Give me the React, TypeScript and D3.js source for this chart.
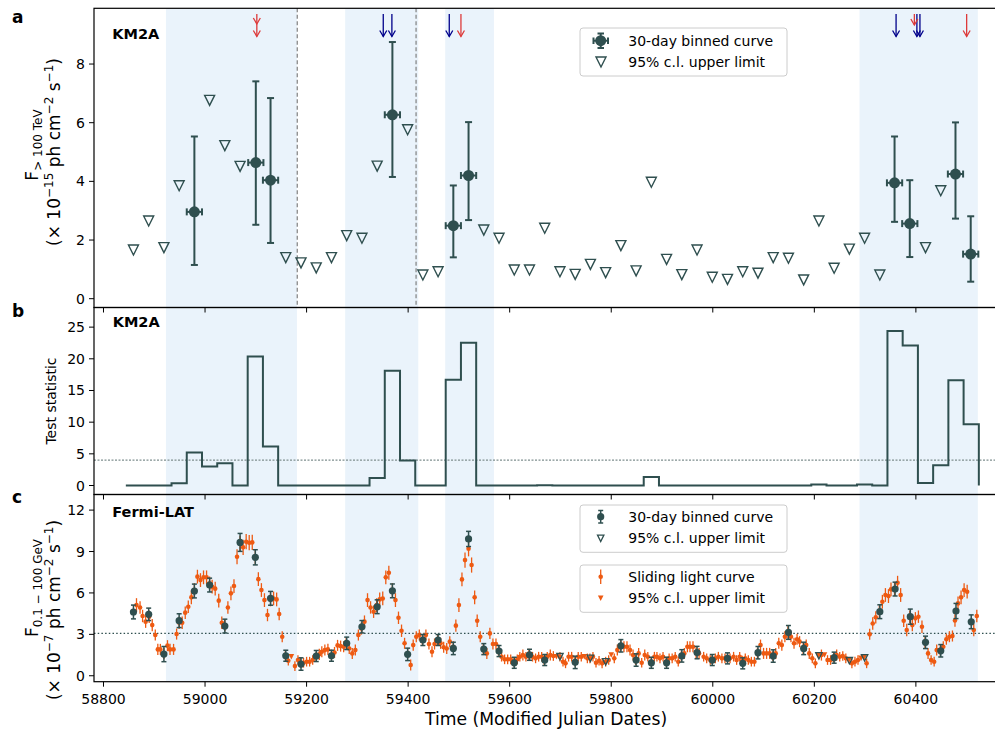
import React from "react";
import * as d3 from "d3";

// ---------------- DATA ----------------
const xTicks = [58800, 59000, 59200, 59400, 59600, 59800, 60000, 60200, 60400];
const yTicksA = [0, 2, 4, 6, 8];
const yTicksB = [0, 5, 10, 15, 20, 25];
const yTicksC = [0, 3, 6, 9, 12];

const shadedStart = [58923, 59276, 59473, 60289];
const shadedEnd = [59181, 59420, 59569, 60522];
const dashedMjd = [59181.6, 59415.6];

const blueArrowMjd = [59351, 59368, 59481, 60361, 60402, 60408];
const redArrowMjd = [59102, 59504, 60397, 60500];
const redArrowKind = ["double", "long", "short", "long"];

// Panel a: KM2A 30-day binned detections
const kmMjd = [58979, 59100, 59129, 59369, 59489, 59519, 60358, 60388, 60478, 60508];
const kmFlux = [2.96, 4.64, 4.04, 6.27, 2.49, 4.2, 3.95, 2.56, 4.25, 1.52];
const kmLow = [1.15, 2.52, 1.9, 4.15, 1.41, 2.68, 2.62, 1.42, 2.73, 0.58];
const kmHigh = [5.53, 7.41, 6.84, 8.75, 3.86, 6.02, 5.53, 4.04, 6.01, 2.81];

// Panel a: KM2A upper limits
const kmUlMjd = [58859, 58889, 58919, 58949, 59009, 59039, 59069, 59159, 59189, 59219, 59249, 59279, 59309, 59339, 59399, 59429, 59459, 59549, 59579, 59609, 59639, 59669, 59699, 59729, 59759, 59789, 59819, 59849, 59879, 59909, 59939, 59969, 59999, 60029, 60059, 60089, 60119, 60149, 60179, 60209, 60239, 60269, 60299, 60329, 60419, 60449];
const kmUlFlux = [1.66, 2.65, 1.74, 3.85, 6.76, 5.22, 4.51, 1.4, 1.22, 1.05, 1.4, 2.15, 2.06, 4.52, 5.76, 0.81, 0.92, 2.34, 2.06, 0.98, 0.98, 2.4, 0.92, 0.83, 1.17, 0.89, 1.81, 0.95, 3.97, 1.34, 0.82, 1.66, 0.73, 0.66, 0.92, 0.87, 1.4, 1.38, 0.64, 2.65, 1.04, 1.69, 2.06, 0.81, 1.74, 3.68];

// Panel b: TS step histogram
const tsEdges = [58844, 58874, 58904, 58934, 58964, 58994, 59024, 59054, 59084, 59114, 59144, 59174, 59204, 59234, 59264, 59294, 59324, 59354, 59384, 59414, 59444, 59474, 59504, 59534, 59564, 59594, 59624, 59654, 59684, 59714, 59744, 59774, 59804, 59834, 59864, 59894, 59924, 59954, 59984, 60014, 60044, 60074, 60104, 60134, 60164, 60194, 60224, 60254, 60284, 60314, 60344, 60374, 60404, 60434, 60464, 60494, 60524];
const tsValues = [0, 0, 0, 0.36, 5.2, 3.0, 3.5, 0, 20.35, 6.15, 0, 0, 0, 0, 0, 0, 1.2, 18.1, 3.94, 0, 0, 16.7, 22.55, 0, 0, 0, 0, 0.05, 0, 0, 0, 0, 0, 0, 1.36, 0, 0, 0, 0, 0, 0, 0, 0, 0, 0, 0.15, 0, 0, 0.15, 0, 24.4, 22.1, 0.4, 3.2, 16.6, 9.67];
const tsThreshold = 4;

// Panel c: Fermi-LAT 30-day binned
const fbMjd = [58859, 58889, 58919, 58949, 58979, 59009, 59039, 59069, 59099, 59129, 59159, 59189, 59219, 59249, 59279, 59309, 59339, 59369, 59399, 59429, 59459, 59489, 59519, 59549, 59579, 59609, 59639, 59669, 59729, 59819, 59849, 59879, 59909, 59939, 59969, 59999, 60029, 60059, 60089, 60119, 60149, 60179, 60239, 60329, 60359, 60389, 60419, 60449, 60479, 60509];
const fbFlux = [4.62, 4.45, 1.57, 3.99, 6.14, 6.57, 3.6, 9.66, 8.58, 5.61, 1.45, 0.85, 1.43, 1.45, 2.35, 3.55, 5.0, 6.15, 1.55, 2.59, 2.59, 1.98, 9.91, 1.93, 1.79, 0.94, 1.52, 1.14, 0.97, 2.17, 1.14, 0.94, 0.94, 1.44, 1.68, 1.14, 1.26, 0.9, 1.67, 1.43, 3.14, 1.98, 1.31, 4.64, 6.28, 4.28, 2.42, 1.81, 4.69, 3.91];
const fbErr = [0.5, 0.45, 0.55, 0.5, 0.5, 0.5, 0.5, 0.65, 0.55, 0.5, 0.4, 0.45, 0.4, 0.4, 0.45, 0.45, 0.5, 0.5, 0.45, 0.4, 0.4, 0.45, 0.55, 0.4, 0.4, 0.4, 0.4, 0.4, 0.45, 0.45, 0.45, 0.4, 0.4, 0.45, 0.45, 0.4, 0.4, 0.4, 0.45, 0.45, 0.5, 0.45, 0.4, 0.5, 0.5, 0.55, 0.45, 0.45, 0.55, 0.5];
const fbUlMjd = [59699, 59759, 59789, 60209, 60269, 60299];
const fbUlFlux = [1.38, 1.26, 1.01, 1.45, 1.09, 1.3];
const fermiThreshold = 3.07;

// Panel c: sliding light curve [MJD, flux, error]
const slidingPoints = [
  [58865, 5.12, 0.5], [58872, 4.95, 0.45], [58877, 4.33, 0.45], [58883, 3.92, 0.45], [58890, 4.28, 0.45], [58896, 3.67, 0.45],
  [58902, 2.95, 0.4], [58907, 1.91, 0.4], [58912, 1.91, 0.4], [58919, 1.62, 0.4], [58926, 2.18, 0.4], [58931, 1.91, 0.4],
  [58938, 1.91, 0.4], [58944, 3.02, 0.4], [58949, 3.84, 0.45], [58955, 3.84, 0.45], [58961, 4.57, 0.45], [58967, 5.0, 0.45],
  [58973, 5.68, 0.5], [58979, 6.21, 0.5], [58985, 7.18, 0.5], [58991, 6.93, 0.5], [58997, 7.13, 0.5], [59003, 7.13, 0.5],
  [59009, 6.69, 0.5], [59014, 6.45, 0.5], [59020, 6.31, 0.5], [59027, 5.44, 0.5], [59033, 3.84, 0.45], [59039, 3.67, 0.45],
  [59045, 4.95, 0.45], [59051, 5.97, 0.5], [59057, 6.5, 0.5], [59063, 8.62, 0.55], [59069, 9.59, 0.55], [59075, 9.3, 0.55],
  [59081, 9.71, 0.55], [59087, 9.64, 0.55], [59093, 9.66, 0.55], [59099, 8.62, 0.55], [59105, 7.0, 0.5], [59111, 6.21, 0.5],
  [59117, 5.48, 0.5], [59123, 4.4, 0.45], [59129, 5.53, 0.5], [59135, 5.6, 0.5], [59141, 5.53, 0.5], [59146, 4.47, 0.45],
  [59152, 2.83, 0.4], [59158, 1.43, 0.35], [59164, 1.09, 0.35], [59177, 0.7, 0.35], [59183, 1.14, 0.35], [59188, 0.94, 0.35],
  [59194, 0.94, 0.35], [59200, 1.02, 0.35], [59206, 1.02, 0.35], [59212, 1.14, 0.35], [59219, 1.38, 0.35], [59225, 1.55, 0.4],
  [59230, 1.74, 0.4], [59236, 1.86, 0.4], [59242, 1.91, 0.4], [59249, 1.5, 0.4], [59255, 1.69, 0.4], [59261, 2.2, 0.4],
  [59267, 2.15, 0.4], [59273, 2.1, 0.4], [59278, 2.35, 0.4], [59284, 1.98, 0.4], [59290, 1.62, 0.4], [59296, 1.86, 0.4],
  [59302, 2.95, 0.4], [59308, 3.43, 0.45], [59314, 3.92, 0.45], [59320, 5.48, 0.5], [59326, 4.95, 0.45], [59332, 4.64, 0.45],
  [59338, 5.12, 0.5], [59344, 5.53, 0.5], [59350, 5.6, 0.5], [59356, 7.13, 0.5], [59362, 7.46, 0.5], [59369, 6.21, 0.5],
  [59375, 5.48, 0.5], [59381, 4.2, 0.45], [59387, 3.26, 0.45], [59393, 2.35, 0.4], [59399, 1.62, 0.4], [59405, 0.78, 0.4],
  [59410, 2.22, 0.4], [59416, 2.83, 0.4], [59422, 2.95, 0.4], [59428, 2.63, 0.4], [59435, 2.95, 0.4], [59441, 2.3, 0.4],
  [59447, 1.74, 0.4], [59452, 2.3, 0.4], [59458, 2.59, 0.4], [59464, 2.35, 0.4], [59470, 2.06, 0.4], [59476, 1.98, 0.4],
  [59482, 2.47, 0.4], [59489, 2.1, 0.4], [59494, 3.63, 0.45], [59500, 5.12, 0.5], [59506, 6.98, 0.5], [59512, 8.38, 0.55],
  [59519, 9.2, 0.55], [59525, 8.02, 0.55], [59531, 5.68, 0.5], [59536, 3.99, 0.45], [59542, 2.83, 0.4], [59548, 1.98, 0.4],
  [59555, 1.62, 0.4], [59561, 3.07, 0.4], [59567, 2.3, 0.4], [59573, 2.3, 0.4], [59578, 1.86, 0.4], [59584, 1.38, 0.35],
  [59590, 1.19, 0.35], [59596, 1.19, 0.35], [59602, 1.19, 0.35], [59609, 0.94, 0.35], [59615, 1.19, 0.35], [59620, 1.38, 0.35],
  [59626, 1.5, 0.4], [59632, 1.38, 0.35], [59638, 1.55, 0.4], [59645, 1.38, 0.35], [59651, 1.26, 0.35], [59657, 1.38, 0.35],
  [59663, 1.38, 0.35], [59668, 1.09, 0.35], [59674, 1.38, 0.35], [59680, 1.5, 0.4], [59686, 1.43, 0.35], [59699, 1.38, 0.35],
  [59705, 1.02, 0.35], [59710, 0.9, 0.35], [59716, 1.38, 0.35], [59722, 1.38, 0.35], [59729, 1.02, 0.35], [59735, 1.38, 0.35],
  [59741, 1.38, 0.35], [59753, 1.26, 0.35], [59758, 1.26, 0.35], [59764, 1.38, 0.35], [59770, 0.94, 0.35], [59776, 1.09, 0.35],
  [59782, 0.9, 0.35], [59789, 1.02, 0.35], [59795, 1.14, 0.35], [59806, 1.26, 0.35], [59812, 1.86, 0.4], [59819, 2.22, 0.4],
  [59825, 2.1, 0.4], [59831, 2.1, 0.4], [59837, 1.86, 0.4], [59843, 1.5, 0.4], [59848, 1.14, 0.35], [59854, 1.62, 0.4],
  [59860, 0.94, 0.35], [59866, 1.5, 0.4], [59872, 1.38, 0.35], [59879, 1.02, 0.35], [59885, 1.38, 0.35], [59890, 1.38, 0.35],
  [59896, 1.26, 0.35], [59902, 1.38, 0.35], [59908, 1.02, 0.35], [59914, 1.26, 0.35], [59920, 1.26, 0.35], [59926, 1.38, 0.35],
  [59932, 1.02, 0.35], [59938, 1.43, 0.35], [59944, 1.62, 0.4], [59950, 2.1, 0.4], [59955, 2.1, 0.4], [59961, 2.1, 0.4],
  [59967, 1.67, 0.4], [59973, 1.62, 0.4], [59982, 1.38, 0.35], [59988, 1.26, 0.35], [59995, 1.14, 0.35], [59999, 1.2, 0.35],
  [60005, 1.26, 0.35], [60011, 1.38, 0.35], [60018, 1.26, 0.35], [60024, 1.26, 0.35], [60029, 1.3, 0.35], [60034, 1.26, 0.35],
  [60041, 1.38, 0.35], [60047, 1.14, 0.35], [60053, 1.38, 0.35], [60058, 1.1, 0.35], [60064, 1.26, 0.35], [60070, 1.14, 0.35],
  [60076, 1.02, 0.35], [60082, 1.02, 0.35], [60088, 1.62, 0.4], [60094, 2.22, 0.4], [60100, 1.62, 0.4], [60106, 1.62, 0.4],
  [60112, 1.62, 0.4], [60118, 1.43, 0.35], [60124, 1.62, 0.4], [60130, 2.35, 0.4], [60136, 2.22, 0.4], [60142, 2.83, 0.4],
  [60148, 3.14, 0.45], [60154, 2.83, 0.4], [60160, 2.35, 0.4], [60166, 2.64, 0.4], [60171, 2.47, 0.4], [60178, 1.98, 0.4],
  [60184, 2.22, 0.4], [60190, 1.62, 0.4], [60196, 1.26, 0.35], [60202, 0.9, 0.35], [60214, 1.5, 0.4], [60226, 1.14, 0.35],
  [60232, 1.14, 0.35], [60238, 1.31, 0.35], [60244, 1.5, 0.4], [60250, 1.38, 0.35], [60256, 1.43, 0.35], [60262, 1.26, 0.35],
  [60274, 0.9, 0.35], [60280, 1.02, 0.35], [60286, 1.14, 0.35], [60303, 0.9, 0.35], [60309, 3.0, 0.4], [60315, 3.79, 0.45],
  [60321, 4.23, 0.45], [60328, 4.64, 0.45], [60334, 5.36, 0.5], [60340, 5.85, 0.5], [60346, 5.77, 0.5], [60351, 6.26, 0.5],
  [60358, 6.28, 0.5], [60364, 6.74, 0.5], [60370, 5.85, 0.5], [60376, 3.99, 0.45], [60382, 3.31, 0.45], [60388, 4.28, 0.45],
  [60393, 3.67, 0.45], [60399, 4.16, 0.45], [60405, 4.28, 0.45], [60412, 3.55, 0.45], [60418, 2.42, 0.4], [60424, 1.62, 0.4],
  [60430, 1.14, 0.35], [60436, 1.02, 0.35], [60441, 1.86, 0.4], [60448, 1.81, 0.4], [60454, 2.1, 0.4], [60460, 2.64, 0.4],
  [60466, 2.83, 0.4], [60472, 2.88, 0.4], [60477, 4.0, 0.45], [60483, 5.24, 0.5], [60489, 5.68, 0.5], [60495, 6.21, 0.5],
  [60501, 6.09, 0.5], [60514, 3.31, 0.45], [60520, 4.33, 0.45],
];
const slidingUlMjd = [59170, 59692, 59747, 59800, 60208, 60220, 60268, 60292, 60298];
const slidingUlFlux = [1.38, 1.38, 1.38, 1.5, 1.45, 1.5, 1.09, 1.26, 1.31];

// ---------------- LAYOUT ----------------
const W = 995;
const H = 732;
const L = 94;
const R = 996;
const aTop = 8.3, aBot = 307.5, bTop = 307.5, bBot = 494.5, cTop = 494.5, cBot = 681.7;

const DARK = "#2f4f4f";
const ORANGE = "#ee5a12";
const SHADE = "#eaf3fb";
const FONT = "DejaVu Sans, sans-serif";

const x = d3.scaleLinear().domain([58781.3, 60557.8]).range([L, R]);
const ya = d3.scaleLinear().domain([-0.3, 9.9]).range([aBot, aTop]);
const yb = d3.scaleLinear().domain([-1.42, 28.1]).range([bBot, bTop]);
const yc = d3.scaleLinear().domain([-0.43, 13.13]).range([cBot, cTop]);

function tri(cx: number, cy: number, s: number) {
  return `M${cx - s},${cy - s}L${cx + s},${cy - s}L${cx},${cy + s}Z`;
}

function Shading({ top, bot }: { top: number; bot: number }) {
  return (
    <g>
      {shadedStart.map((s, i) => (
        <rect key={i} x={x(s)} y={top} width={x(shadedEnd[i]) - x(s)} height={bot - top} fill={SHADE} />
      ))}
    </g>
  );
}

function XTicks({ bot }: { bot: number }) {
  return (
    <g>
      {xTicks.map((t) => (
        <line key={t} x1={x(t)} x2={x(t)} y1={bot} y2={bot + 5} stroke="#000" strokeWidth={1} />
      ))}
    </g>
  );
}

function YTicks({ ticks, scale }: { ticks: number[]; scale: d3.ScaleLinear<number, number> }) {
  return (
    <g>
      {ticks.map((t) => (
        <g key={t}>
          <line x1={L - 5} x2={L} y1={scale(t)} y2={scale(t)} stroke="#000" strokeWidth={1} />
          <text x={L - 9} y={scale(t) + 5} textAnchor="end" fontSize={14} fontFamily={FONT} fill="#000">
            {t}
          </text>
        </g>
      ))}
    </g>
  );
}

function Arrow({ xp, y1, y2, color, heads }: { xp: number; y1: number; y2: number; color: string; heads: number[] }) {
  return (
    <g stroke={color} strokeWidth={1.3} fill="none">
      <line x1={xp} x2={xp} y1={y1} y2={y2} />
      {heads.map((h, i) => (
        <path key={i} d={`M${xp - 3.5},${h - 6}L${xp},${h}L${xp + 3.5},${h - 6}`} />
      ))}
    </g>
  );
}

export default function App() {
  let stepD = `M${x(tsEdges[0])},${yb(tsValues[0])}`;
  tsValues.forEach((v, i) => {
    stepD += `H${x(tsEdges[i + 1])}`;
    const next = i + 1 < tsValues.length ? tsValues[i + 1] : 0;
    stepD += `V${yb(next)}`;
  });

  return (
    <svg width={W} height={H} style={{ position: "absolute", left: 0, top: 0, background: "#fff" }} fontFamily={FONT}>
      <rect x={0} y={0} width={W} height={H} fill="#fff" />
      <Shading top={aTop} bot={aBot} />
      <Shading top={bTop} bot={bBot} />
      <Shading top={cTop} bot={cBot} />

      {/* ---------- Panel a ---------- */}
      {dashedMjd.map((m) => (
        <line key={m} x1={x(m)} x2={x(m)} y1={aTop} y2={aBot} stroke="#808080" strokeWidth={1.2} strokeDasharray="4,2.5" />
      ))}
      {kmUlMjd.map((m, i) => (
        <path key={i} d={tri(x(m), ya(kmUlFlux[i]), 5)} fill="none" stroke={DARK} strokeWidth={1.4} />
      ))}
      {kmMjd.map((m, i) => {
        const cx = x(m);
        const cy = ya(kmFlux[i]);
        const yl = ya(kmLow[i]);
        const yh = ya(kmHigh[i]);
        const xl = x(m - 15);
        const xr = x(m + 15);
        return (
          <g key={i} stroke={DARK} strokeWidth={2}>
            <line x1={cx} x2={cx} y1={yl} y2={yh} />
            <line x1={cx - 3.5} x2={cx + 3.5} y1={yl} y2={yl} />
            <line x1={cx - 3.5} x2={cx + 3.5} y1={yh} y2={yh} />
            <line x1={xl} x2={xr} y1={cy} y2={cy} />
            <line x1={xl} x2={xl} y1={cy - 3.5} y2={cy + 3.5} />
            <line x1={xr} x2={xr} y1={cy - 3.5} y2={cy + 3.5} />
            <circle cx={cx} cy={cy} r={5.5} fill={DARK} stroke="none" />
          </g>
        );
      })}
      {blueArrowMjd.map((m, i) => (
        <Arrow key={"b" + i} xp={x(m)} y1={14} y2={36.5} color="#00008b" heads={[36.5]} />
      ))}
      {redArrowMjd.map((m, i) => {
        const k = redArrowKind[i];
        const y2 = k === "short" ? 25 : 36.5;
        const heads = k === "double" ? [24, 36.5] : [y2];
        return <Arrow key={"r" + i} xp={x(m)} y1={14} y2={y2} color="#dd3a3a" heads={heads} />;
      })}
      <text x={112.3} y={39} fontSize={14.5} fontWeight="bold" fontFamily={FONT}>KM2A</text>
      <g>
        <rect x={580} y={28} width={207} height={48} rx={3} fill="#fff" fillOpacity={0.8} stroke="#cccccc" strokeWidth={1} />
        <g stroke={DARK} strokeWidth={2}>
          <line x1={600.7} x2={600.7} y1={33.5} y2={48} />
          <line x1={597.5} x2={604} y1={33.5} y2={33.5} />
          <line x1={597.5} x2={604} y1={48} y2={48} />
          <line x1={593.5} x2={608} y1={40.7} y2={40.7} />
          <line x1={593.5} x2={593.5} y1={37.5} y2={44} />
          <line x1={608} x2={608} y1={37.5} y2={44} />
          <circle cx={600.7} cy={40.7} r={5.5} fill={DARK} stroke="none" />
        </g>
        <path d={tri(601, 62, 5)} fill="none" stroke={DARK} strokeWidth={1.4} />
        <text x={628.3} y={45.8} fontSize={14} fontFamily={FONT}>30-day binned curve</text>
        <text x={628.3} y={67} fontSize={14} fontFamily={FONT}>95% c.l. upper limit</text>
      </g>
      <YTicks ticks={yTicksA} scale={ya} />
      <XTicks bot={aBot} />

      {/* ---------- Panel b ---------- */}
      <line x1={L} x2={R} y1={yb(tsThreshold)} y2={yb(tsThreshold)} stroke="#7f8f8f" strokeWidth={1.1} strokeDasharray="2,1.5" />
      <path d={stepD} fill="none" stroke={DARK} strokeWidth={2} />
      <text x={112.7} y={326.5} fontSize={14.5} fontWeight="bold" fontFamily={FONT}>KM2A</text>
      <YTicks ticks={yTicksB} scale={yb} />
      <XTicks bot={bBot} />

      {/* ---------- Panel c ---------- */}
      <line x1={L} x2={R} y1={yc(fermiThreshold)} y2={yc(fermiThreshold)} stroke={DARK} strokeWidth={1.2} strokeDasharray="1.5,2.2" />
      {slidingPoints.map((p, i) => {
        const cx = x(p[0]);
        return (
          <g key={i}>
            <line x1={cx} x2={cx} y1={yc(p[1] - p[2])} y2={yc(p[1] + p[2])} stroke={ORANGE} strokeWidth={1.3} />
            <circle cx={cx} cy={yc(p[1])} r={2.3} fill={ORANGE} />
          </g>
        );
      })}
      {slidingUlMjd.map((m, i) => (
        <path key={i} d={tri(x(m), yc(slidingUlFlux[i]), 2.8)} fill={ORANGE} stroke="none" />
      ))}
      {fbMjd.map((m, i) => {
        const cx = x(m);
        const y1 = yc(fbFlux[i] - fbErr[i]);
        const y2 = yc(fbFlux[i] + fbErr[i]);
        return (
          <g key={i} stroke={DARK} strokeWidth={1.5}>
            <line x1={cx} x2={cx} y1={y1} y2={y2} />
            <line x1={cx - 2.5} x2={cx + 2.5} y1={y1} y2={y1} />
            <line x1={cx - 2.5} x2={cx + 2.5} y1={y2} y2={y2} />
            <circle cx={cx} cy={yc(fbFlux[i])} r={3.6} fill={DARK} stroke="none" />
          </g>
        );
      })}
      {fbUlMjd.map((m, i) => (
        <path key={i} d={tri(x(m), yc(fbUlFlux[i]), 3.2)} fill="none" stroke={DARK} strokeWidth={1.3} />
      ))}
      <text x={112.3} y={517} fontSize={14.5} fontWeight="bold" fontFamily={FONT}>Fermi-LAT</text>
      <g>
        <rect x={580} y={505} width={207} height={47.3} rx={3} fill="#fff" fillOpacity={0.8} stroke="#cccccc" strokeWidth={1} />
        <g stroke={DARK} strokeWidth={1.5}>
          <line x1={600.7} x2={600.7} y1={510.5} y2={523} />
          <line x1={598.2} x2={603.2} y1={510.5} y2={510.5} />
          <line x1={598.2} x2={603.2} y1={523} y2={523} />
          <circle cx={600.7} cy={516.7} r={3.6} fill={DARK} stroke="none" />
        </g>
        <path d={tri(600.7, 538.3, 3.2)} fill="none" stroke={DARK} strokeWidth={1.3} />
        <text x={628.3} y={521.8} fontSize={14} fontFamily={FONT}>30-day binned curve</text>
        <text x={628.3} y={543.4} fontSize={14} fontFamily={FONT}>95% c.l. upper limit</text>

        <rect x={580} y={565} width={207} height={47.3} rx={3} fill="#fff" fillOpacity={0.8} stroke="#cccccc" strokeWidth={1} />
        <line x1={600.7} x2={600.7} y1={569.5} y2={584} stroke={ORANGE} strokeWidth={1.3} />
        <circle cx={600.7} cy={576.7} r={2.3} fill={ORANGE} />
        <path d={tri(600.7, 598.3, 2.8)} fill={ORANGE} />
        <text x={628.3} y={581.8} fontSize={14} fontFamily={FONT}>Sliding light curve</text>
        <text x={628.3} y={603.4} fontSize={14} fontFamily={FONT}>95% c.l. upper limit</text>
      </g>
      <YTicks ticks={yTicksC} scale={yc} />
      <XTicks bot={cBot} />
      {xTicks.map((t) => (
        <text key={t} x={x(t)} y={704} textAnchor="middle" fontSize={14} fontFamily={FONT}>
          {t}
        </text>
      ))}

      <rect x={L} y={aTop} width={R - L} height={aBot - aTop} fill="none" stroke="#000" strokeWidth={1.2} />
      <rect x={L} y={bTop} width={R - L} height={bBot - bTop} fill="none" stroke="#000" strokeWidth={1.2} />
      <rect x={L} y={cTop} width={R - L} height={cBot - cTop} fill="none" stroke="#000" strokeWidth={1.2} />

      <text x={546} y={725} textAnchor="middle" fontSize={17.2} fontFamily={FONT}>
        Time (Modified Julian Dates)
      </text>
      <text transform="translate(38,145) rotate(-90)" textAnchor="middle" fontSize={17} fontFamily={FONT}>
        F<tspan fontSize={12} dy={4}>{"> 100 TeV"}</tspan>
      </text>
      <text transform="translate(60,152) rotate(-90)" textAnchor="middle" fontSize={17} fontFamily={FONT}>
        {"(× 10"}
        <tspan fontSize={12} dy={-7}>{"−15"}</tspan>
        <tspan dy={7}>{" ph cm"}</tspan>
        <tspan fontSize={12} dy={-7}>{"−2"}</tspan>
        <tspan dy={7}>{" s"}</tspan>
        <tspan fontSize={12} dy={-7}>{"−1"}</tspan>
        <tspan dy={7}>{")"}</tspan>
      </text>
      <text transform="translate(56,401) rotate(-90)" textAnchor="middle" fontSize={14} fontFamily={FONT}>
        Test statistic
      </text>
      <text transform="translate(38,588) rotate(-90)" textAnchor="middle" fontSize={17} fontFamily={FONT}>
        F<tspan fontSize={12} dy={4}>{"0.1 − 100 GeV"}</tspan>
      </text>
      <text transform="translate(60,610) rotate(-90)" textAnchor="middle" fontSize={17} fontFamily={FONT}>
        {"(× 10"}
        <tspan fontSize={12} dy={-7}>{"−7"}</tspan>
        <tspan dy={7}>{" ph cm"}</tspan>
        <tspan fontSize={12} dy={-7}>{"−2"}</tspan>
        <tspan dy={7}>{" s"}</tspan>
        <tspan fontSize={12} dy={-7}>{"−1"}</tspan>
        <tspan dy={7}>{")"}</tspan>
      </text>

      <text x={12} y={23} fontSize={17} fontWeight="bold" fontFamily={FONT}>a</text>
      <text x={12} y={317} fontSize={17} fontWeight="bold" fontFamily={FONT}>b</text>
      <text x={12} y={503} fontSize={17} fontWeight="bold" fontFamily={FONT}>c</text>
    </svg>
  );
}
